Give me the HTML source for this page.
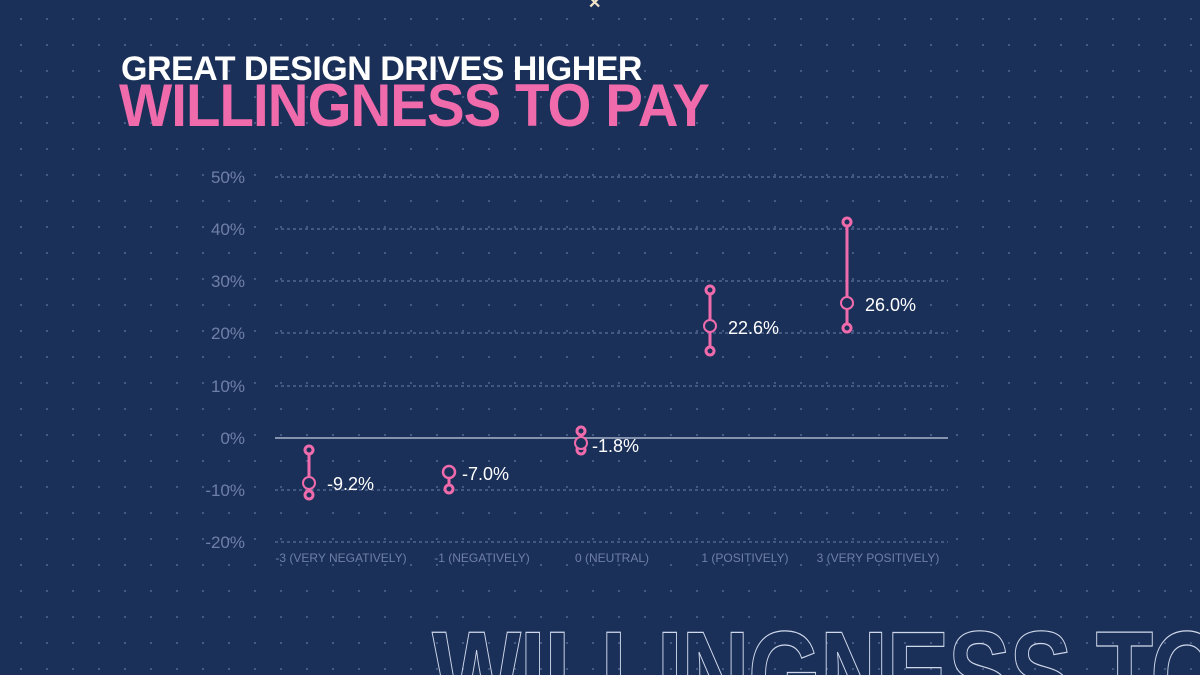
<!DOCTYPE html>
<html><head><style>
html,body{margin:0;padding:0;width:1200px;height:675px;overflow:hidden}
body{background-color:#1b3059;
background-image:radial-gradient(circle,rgba(150,170,210,.35) 1px,transparent 1.3px);
background-size:26px 26px;background-position:8px 6px;font-family:"Liberation Sans",sans-serif;position:relative}
.wrap{position:absolute;left:0;top:0;width:1200px;height:675px;overflow:hidden}
.t1{position:absolute;left:121px;top:50px;font-size:34px;font-weight:bold;color:#fff;letter-spacing:-0.5px;transform:scaleX(1.0);transform-origin:left;white-space:nowrap}
.t2{position:absolute;left:119px;top:71px;font-size:60px;font-weight:bold;color:#f06bab;letter-spacing:-1px;transform:scaleX(0.94);transform-origin:left;white-space:nowrap}
svg{position:absolute;left:0;top:0;overflow:hidden}
</style></head><body><div class="wrap">
<div class="t1">GREAT DESIGN DRIVES HIGHER</div>
<div class="t2">WILLINGNESS TO PAY</div>
<svg width="1200" height="675" viewBox="0 0 1200 675">
<g stroke="#6b7fa8" stroke-width="1" stroke-dasharray="3,3">
<line x1="275" y1="177" x2="948" y2="177"/><line x1="275" y1="229" x2="948" y2="229"/>
<line x1="275" y1="281" x2="948" y2="281"/><line x1="275" y1="333" x2="948" y2="333"/>
<line x1="275" y1="386" x2="948" y2="386"/><line x1="275" y1="490" x2="948" y2="490"/>
<line x1="275" y1="542" x2="948" y2="542"/>
</g>
<line x1="275" y1="438" x2="948" y2="438" stroke="#8592ad" stroke-width="2"/>
<g fill="#6f7fa6" font-size="17" text-anchor="end">
<text x="245" y="183">50%</text><text x="245" y="235">40%</text><text x="245" y="287">30%</text>
<text x="245" y="339">20%</text><text x="245" y="392">10%</text><text x="245" y="444">0%</text>
<text x="245" y="496">-10%</text><text x="245" y="548">-20%</text>
</g>
<g fill="#6f7fa6" font-size="12" text-anchor="middle">
<text x="341" y="562">-3 (VERY NEGATIVELY)</text><text x="482" y="562">-1 (NEGATIVELY)</text>
<text x="612" y="562">0 (NEUTRAL)</text><text x="745" y="562">1 (POSITIVELY)</text>
<text x="878" y="562">3 (VERY POSITIVELY)</text>
</g>
<g stroke="#f06bab" stroke-width="3" fill="#1b3059">
<line x1="309" y1="450" x2="309" y2="495"/><circle cx="309" cy="450" r="4"/><circle cx="309" cy="495" r="4"/><circle cx="309" cy="483" r="6" stroke-width="2"/>
<line x1="449" y1="468" x2="449" y2="489"/><circle cx="449" cy="489" r="4"/><circle cx="449" cy="472" r="6" stroke-width="2.5"/>
<line x1="581" y1="431" x2="581" y2="450"/><circle cx="581" cy="431" r="4"/><circle cx="581" cy="450" r="4"/><circle cx="581" cy="443" r="6" stroke-width="2"/>
<line x1="710" y1="290" x2="710" y2="351"/><circle cx="710" cy="290" r="4"/><circle cx="710" cy="351" r="4"/><circle cx="710" cy="326" r="6" stroke-width="2"/>
<line x1="847" y1="222" x2="847" y2="328"/><circle cx="847" cy="222" r="4"/><circle cx="847" cy="328" r="4"/><circle cx="847" cy="303" r="6" stroke-width="2"/>
</g>
<g fill="#fff" font-size="18">
<text x="327" y="490">-9.2%</text><text x="462" y="480">-7.0%</text><text x="592" y="452">-1.8%</text>
<text x="728" y="334">22.6%</text><text x="865" y="311">26.0%</text>
</g>
<text x="432" y="718" font-size="124" font-weight="bold" fill="none" stroke="#cfd8ea" stroke-width="1.2" letter-spacing="-2" textLength="790" lengthAdjust="spacingAndGlyphs">WILLINGNESS TO</text>
<text x="588" y="8" font-size="16" font-weight="bold" fill="#f3e6c8">✕</text>
</svg>
</div></body></html>
